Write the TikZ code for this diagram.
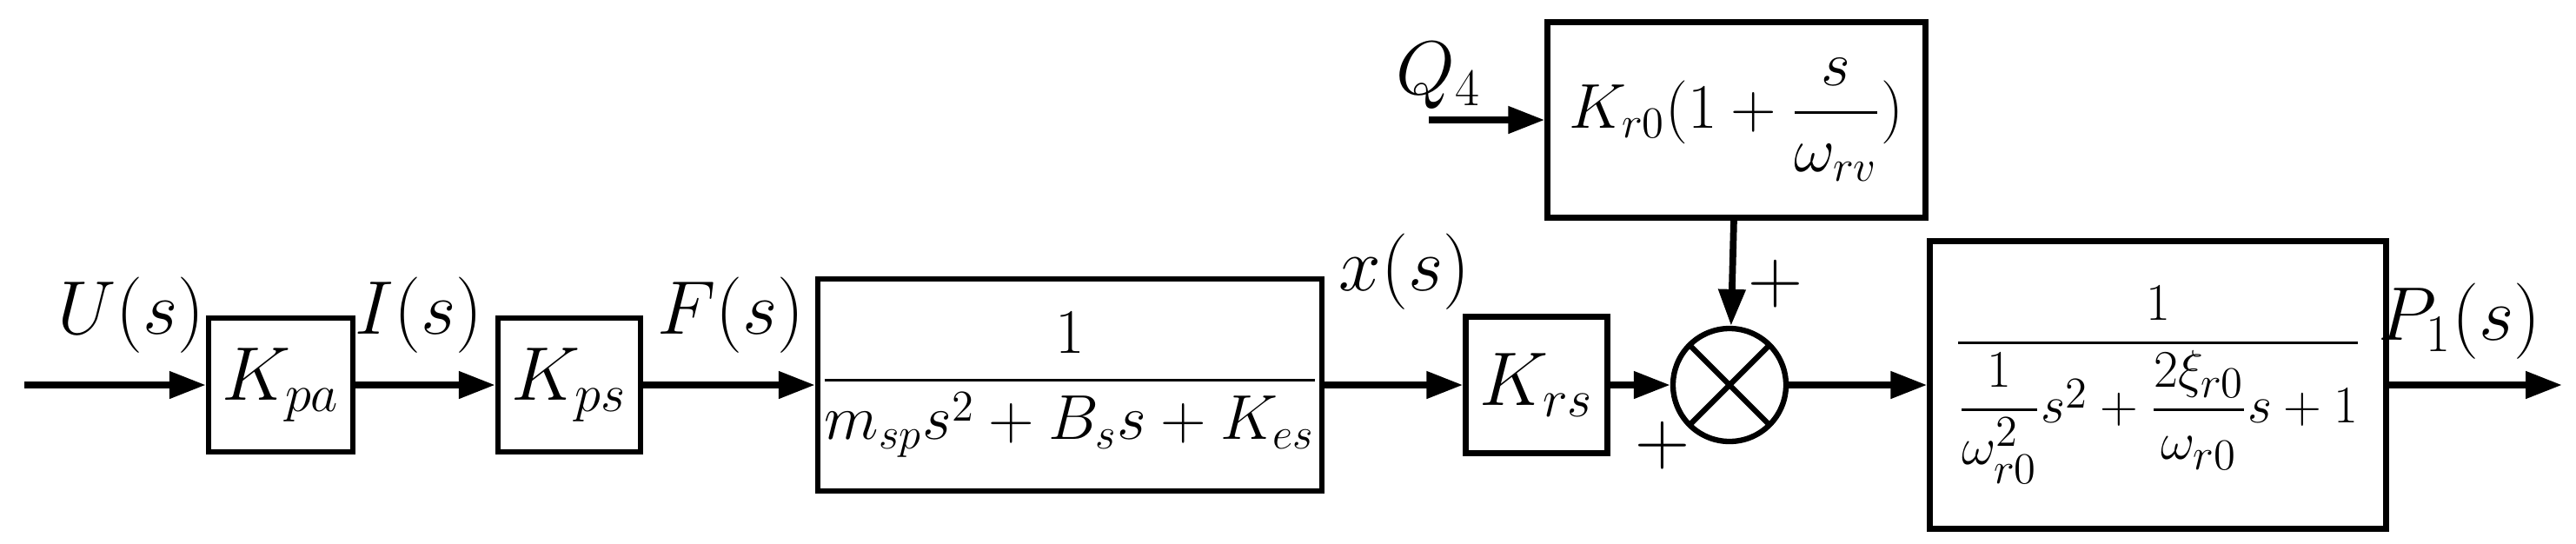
\documentclass[tikz,border=0pt]{standalone}
\usepackage{amsmath, amssymb}
\usepackage{tikz}
\usetikzlibrary{arrows.meta}

\begin{document}
\begin{tikzpicture}[font=\fontsize{24}{28}\selectfont,
  blk/.style={draw, line width=1.8pt, inner sep=0pt},
  sig/.style={line width=2.2pt, -{Triangle[length=0.42cm,width=0.3cm]}},
  lbl/.style={inner sep=0pt}]
  \useasboundingbox (0,0) rectangle (29.64,6.25);

  % Blocks
  \node [blk, minimum width=1.66cm, minimum height=1.54cm] (kpa) at (3.23,1.82) {$K_{pa}$};
  \node [blk, minimum width=1.64cm, minimum height=1.54cm] (kps) at (6.55,1.82) {$K_{ps}$};
  \node [blk, minimum width=5.8cm, minimum height=2.44cm, font=\fontsize{21}{25}\selectfont] (plant) at (12.31,1.82) {$\dfrac{1}{m_{sp}s^2+B_s s+K_{es}}$};
  \node [blk, minimum width=1.63cm, minimum height=1.57cm] (krs) at (17.68,1.82) {$K_{rs}$};
  \node [draw, circle, line width=1.8pt, minimum size=1.3cm, inner sep=0pt,
         path picture={\draw [line width=1.8pt] (path picture bounding box.south west) -- (path picture bounding box.north east)
                         (path picture bounding box.north west) -- (path picture bounding box.south east);}] (sum) at (19.90,1.82) {};
  \node [blk, minimum width=4.35cm, minimum height=2.25cm, font=\fontsize{20}{24}\selectfont] (valve) at (19.98,4.87) {$K_{r0}(1+\dfrac{s}{\omega_{rv}})$};
  \node [blk, minimum width=5.25cm, minimum height=3.31cm, font=\fontsize{19}{23}\selectfont] (ptf) at (24.83,1.82) {$\dfrac{1}{\dfrac{1}{\omega_{r0}^{2}}s^{2}+\dfrac{2\xi_{r0}}{\omega_{r0}}s+1}$};

  % Free ends
  \coordinate (in) at (0.28,1.82);
  \coordinate (out) at (29.48,1.82);
  \coordinate (q) at (16.44,4.87);

  % Signals
  \draw [sig] (in) -- (kpa);
  \draw [sig] (kpa) -- (kps);
  \draw [sig] (kps) -- (plant);
  \draw [sig] (plant) -- (krs);
  \draw [sig] (krs) -- (sum);
  \draw [sig] (valve) -- (sum);
  \draw [sig] (sum) -- (ptf);
  \draw [sig] (ptf) -- (out);
  \draw [sig] (q) -- (valve);

  % Labels
  \node [lbl] (lu) at (1.51,2.62) {$U(s)$};
  \node [lbl] (li) at (4.82,2.62) {$I(s)$};
  \node [lbl] (lf) at (8.41,2.62) {$F(s)$};
  \node [lbl] (lx) at (16.16,3.12) {$x(s)$};
  \node [lbl] (lp) at (28.3,2.55) {$P_1(s)$};
  \node [lbl] (lq) at (16.55,5.38) {$Q_4$};
  \node [lbl] (pt) at (20.43,2.98) {$+$};
  \node [lbl] (pb) at (19.13,1.12) {$+$};
\end{tikzpicture}
\end{document}
